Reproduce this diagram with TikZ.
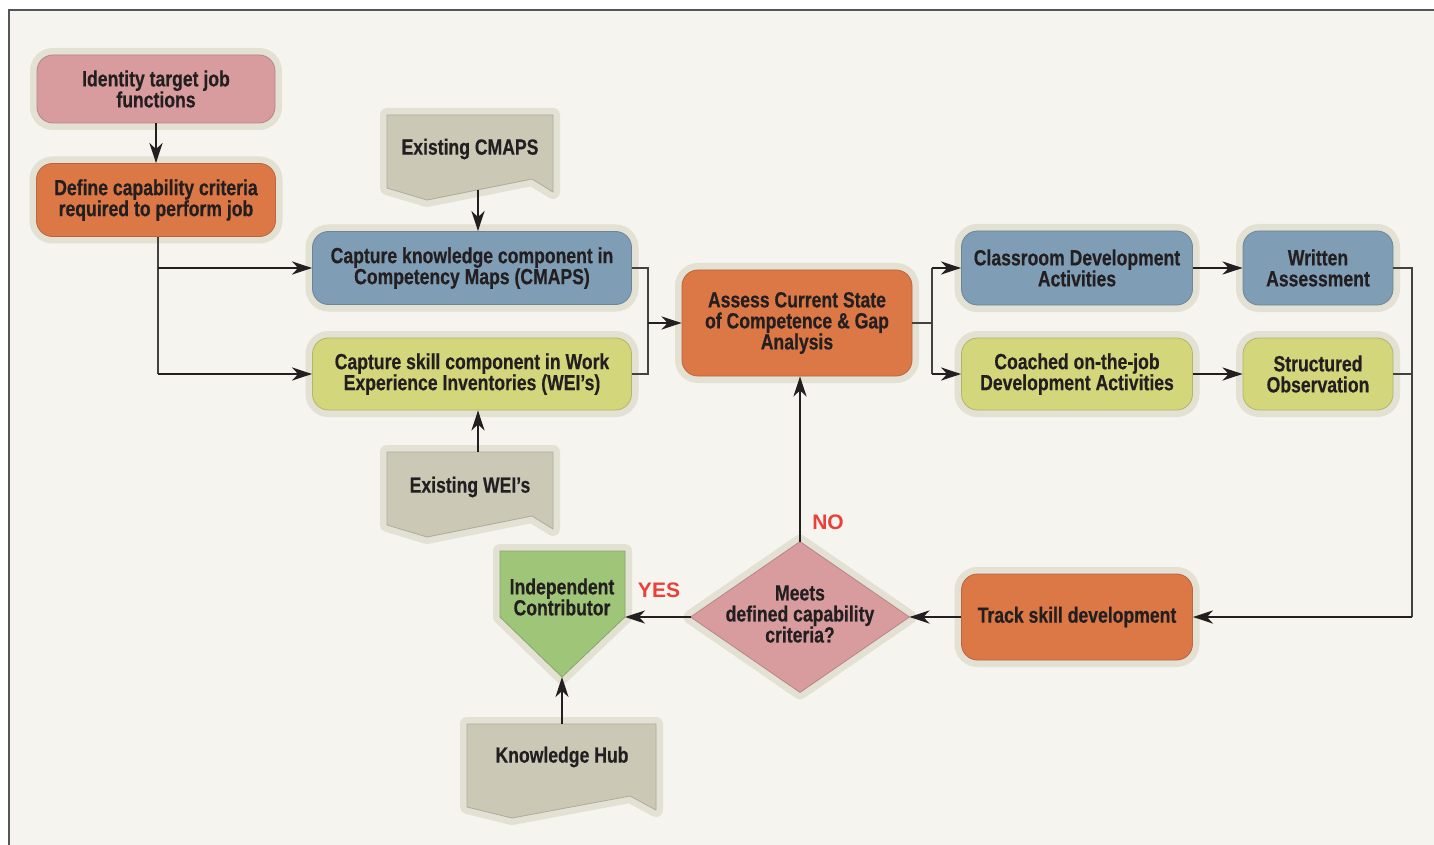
\documentclass[tikz,border=0pt]{standalone}
\usepackage{fontspec}
\setmainfont{Liberation Sans}[FakeStretch=0.8,BoldFeatures={FakeBold=0.4}]
\newfontfamily\lblfont{Liberation Sans}
\usetikzlibrary{arrows.meta}
\definecolor{bgc}{HTML}{F5F4EE}
\definecolor{haloc}{HTML}{E3E0D4}
\definecolor{pinkc}{HTML}{D99C9E}
\definecolor{orangec}{HTML}{DC7746}
\definecolor{bluec}{HTML}{7F9DB5}
\definecolor{yellowc}{HTML}{D3D67A}
\definecolor{grayc}{HTML}{CBC9B6}
\definecolor{greenc}{HTML}{9FC578}
\definecolor{txtc}{HTML}{231F20}
\definecolor{redc}{HTML}{E8413A}
\definecolor{framec}{HTML}{555555}
\begin{document}
\begin{tikzpicture}[x=0.5pt,y=-0.5pt,
  txt/.style={align=center, font=\bfseries\fontsize{11}{10.5}\selectfont, text=txtc, inner sep=0pt},
  box/.style={txt, rounded corners=8pt, fill=#1, draw=#1!85!black, line width=0.4pt,
    preaction={draw=haloc, line width=7pt}},
  shp/.style={fill=#1, draw=#1!85!black, line width=0.4pt, line join=round,
    preaction={draw=haloc, line width=7pt, line join=round}},
  arr/.style={draw=txtc, line width=1.2pt, -{Stealth[length=10pt,width=6.5pt,inset=3pt]}},
  thin/.style={draw=txtc!85!white, line width=0.6pt},
  redlbl/.style={font=\lblfont\bfseries\fontsize{10.5}{12}\selectfont, text=redc, inner sep=0pt}]
% frame and background
\useasboundingbox (0,0) rectangle (1434,845);
\fill[white] (0,0) rectangle (1434,845);
\fill[bgc] (9,10) rectangle (1434,845);
\draw[framec, line width=0.7pt] (9,845) -- (9,10) -- (1434,10);

% rounded boxes
\node[box=pinkc, minimum width=119pt, minimum height=34pt] (n1) at (156,89) {Identity target job\\functions};
\node[box=orangec, minimum width=119.5pt, minimum height=36.5pt] (n2) at (156,200) {Define capability criteria\\required to perform job};
\node[box=bluec, minimum width=159.5pt, minimum height=36.5pt] (n4) at (472,268) {Capture knowledge component in\\Competency Maps (CMAPS)};
\node[box=yellowc, minimum width=159.5pt, minimum height=36pt] (n5) at (472,374) {Capture skill component in Work\\Experience Inventories (WEI’s)};
\node[box=orangec, minimum width=115pt, minimum height=53pt] (n7) at (797,323) {Assess Current State\\of Competence \& Gap\\Analysis};
\node[box=bluec, minimum width=115.5pt, minimum height=37pt] (n8) at (1077,268) {Classroom Development\\Activities};
\node[box=bluec, minimum width=75pt, minimum height=37pt] (n9) at (1318,268) {Written\\Assessment};
\node[box=yellowc, minimum width=115.5pt, minimum height=36pt] (n10) at (1077,374) {Coached on-the-job\\Development Activities};
\node[box=yellowc, minimum width=75pt, minimum height=36pt] (n11) at (1318,374) {Structured\\Observation};
\node[box=orangec, minimum width=115.5pt, minimum height=43pt] (n12) at (1077,617) {Track skill development};

% documents
\draw[shp=grayc] (387,115) -- (553,115) -- (553,192) -- (532,179) -- (427,200) -- (387,188) -- cycle;
\node[txt] (cmaps) at (470,149) {Existing CMAPS};
\coordinate (cmapsB) at (478,190);
\draw[shp=grayc] (387,452) -- (553,452) -- (553,529) -- (532,516) -- (427,537) -- (387,525) -- cycle;
\node[txt] (weis) at (470,487) {Existing WEI’s};
\coordinate (weisT) at (478,452);
\draw[shp=grayc] (467,724) -- (656,724) -- (656,810) -- (630,796) -- (512,818) -- (467,807) -- cycle;
\node[txt] (hub) at (562,757) {Knowledge Hub};
\coordinate (hubT) at (562,724);

% diamond
\node[inner sep=0pt, minimum width=109pt, minimum height=75pt] (dia) at (800,617) {};
\draw[shp=pinkc] (dia.north) -- (dia.east) -- (dia.south) -- (dia.west) -- cycle;
\node[txt] (diat) at (800,614) {Meets\\defined capability\\criteria?};

% pentagon
\draw[shp=greenc] (500,551) -- (625,551) -- (625,617) -- (562,677) -- (500,617) -- cycle;
\node[txt] (ic) at (562,597) {Independent\\Contributor};
\coordinate (icR) at (625,617);
\coordinate (icB) at (562,677);

% connectors
\draw[arr] (n1.south) -- (n2.north);
\coordinate (trunkTop) at (158,237);
\coordinate (trunkBot) at (158,374);
\draw[thin] (trunkTop) -- (trunkBot);
\draw[arr] (158,268) -- (n4.west);
\draw[arr] (trunkBot) -- (n5.west);
\draw[arr] (cmapsB) -- (cmapsB |- n4.north);
\draw[arr] (weisT) -- (weisT |- n5.south);

\coordinate (m1) at (648,323);
\draw[thin] (n4.east) -- (n4.east -| m1) -- (n5.east -| m1) -- (n5.east);
\draw[arr] (m1) -- (n7.west);

\coordinate (m2) at (932,323);
\draw[thin] (n7.east) -- (m2);
\draw[thin] (n8.west -| m2) -- (n10.west -| m2);
\draw[arr] (n8.west -| m2) -- (n8.west);
\draw[arr] (n10.west -| m2) -- (n10.west);

\draw[arr] (n8.east) -- (n9.west);
\draw[arr] (n10.east) -- (n11.west);

\coordinate (m3) at (1412,617);
\draw[thin] (n9.east) -- (n9.east -| m3) -- (m3);
\draw[thin] (n11.east) -- (n11.east -| m3);
\draw[arr] (m3) -- (n12.east);
\draw[arr] (n12.west) -- (dia.east);
\draw[arr] (dia.north) -- (dia.north |- n7.south);
\draw[arr] (dia.west) -- (icR);
\draw[arr] (hubT) -- (icB);

\node[redlbl] (no) at (828,522) {NO};
\node[redlbl] (yes) at (659,590) {YES};
\end{tikzpicture}
\end{document}
